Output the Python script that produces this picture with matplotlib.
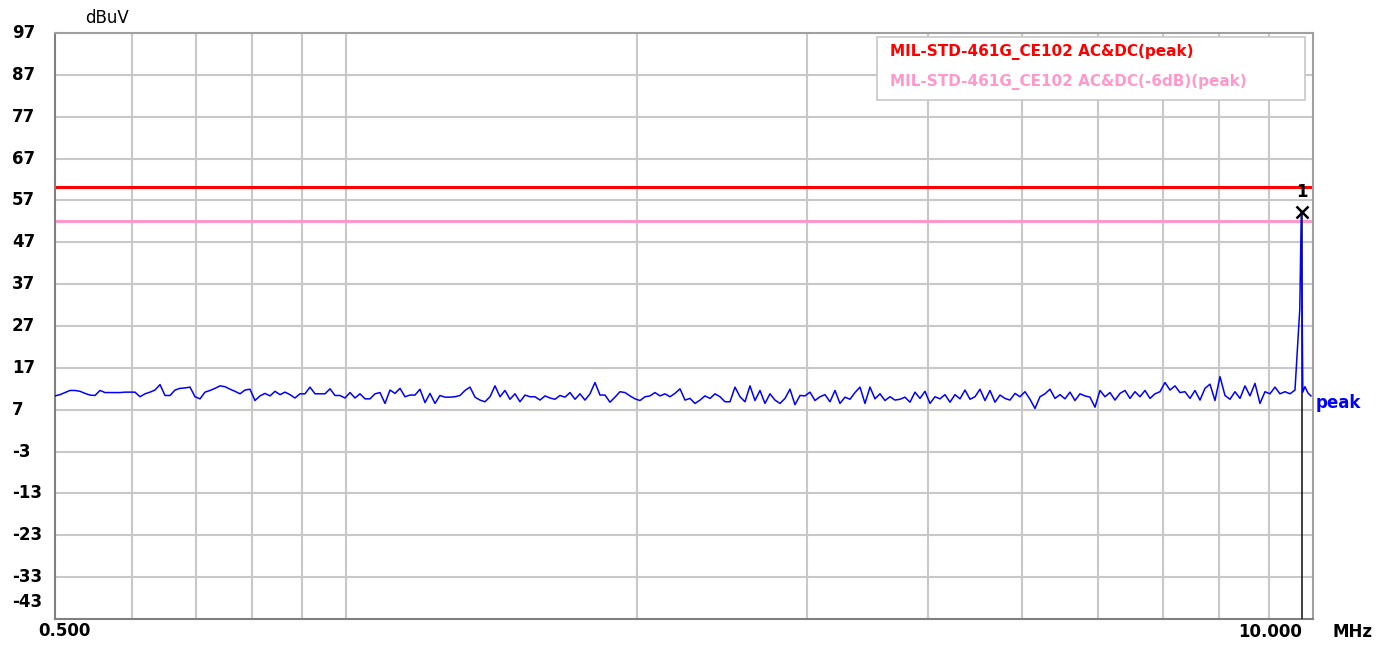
import numpy as np
import matplotlib
matplotlib.use("Agg")
import matplotlib.pyplot as plt

# levels (dBuV), one every ~5 px of screen, 0.5 MHz .. ~9.58 MHz
level_low = [10.3, 10.6, 11.1, 11.6, 11.6, 11.4, 10.9, 10.5, 10.4, 11.6, 11.1, 11.1, 11.1, 11.1, 11.2, 11.2,
             11.2, 10.1, 10.8, 11.2, 11.7, 13.0, 10.4, 10.4, 11.7, 12.1, 12.2, 12.4, 10.1, 9.6, 11.2, 11.6,
             12.1, 12.7, 12.5, 11.9, 11.4, 10.8, 11.7, 11.9, 9.2, 10.3, 10.9, 10.3, 11.4, 10.6, 11.2, 10.6,
             9.8, 10.8, 10.8, 12.4, 10.8, 10.8, 10.8, 12.0, 10.4, 10.4, 9.8, 11.1, 9.8, 10.8, 9.6, 9.6]
level_mid1 = [10.8, 11.1, 8.5, 11.7, 10.9, 12.1, 10.1, 10.5, 10.5, 11.9, 8.7, 10.9, 8.5, 10.4, 10.0, 10.0,
              10.1, 10.4, 11.6, 12.4, 10.0, 9.3, 8.9, 10.1, 12.7, 10.1, 11.6, 9.5, 10.8, 8.9, 10.5, 10.1,
              10.1, 9.3, 10.3, 9.8, 9.5, 10.4, 10.0, 11.1, 9.5, 10.8, 9.3, 10.8, 13.5, 10.5, 10.5, 8.8,
              10.0, 11.3, 11.1, 10.3, 9.6, 9.2, 10.1, 10.3, 11.1, 10.3, 10.8, 10.1, 10.9, 12.0, 9.3]
level_mid2 = [9.7, 8.5, 9.3, 10.3, 9.7, 10.8, 10.1, 8.9, 8.9, 12.4, 10.1, 8.9, 12.7, 9.2, 11.6, 8.5,
              10.8, 9.3, 8.5, 9.7, 11.9, 8.2, 10.4, 10.3, 11.2, 9.2, 10.1, 10.6, 8.9, 11.6, 8.5, 10.0,
              9.5, 11.1, 12.4, 8.5, 12.4, 9.6, 10.8, 9.2, 10.1, 9.3, 9.5, 10.0, 8.8, 11.2, 9.7, 11.4,
              8.5, 10.1, 9.6, 10.6, 8.8, 10.6, 9.6, 11.7, 9.5, 10.1, 11.9, 9.2, 11.6, 8.8, 10.5]
level_high = [9.7, 9.3, 10.9, 10.1, 11.3, 9.5, 7.3, 10.1, 10.8, 11.9, 9.7, 10.6, 9.6, 11.2, 9.2, 10.8,
              10.3, 10.0, 7.6, 11.6, 10.1, 11.1, 9.3, 10.9, 11.6, 9.7, 11.3, 10.1, 11.6, 9.7, 10.8, 11.3,
              13.5, 11.7, 12.7, 11.1, 11.3, 9.7, 11.6, 9.3, 12.1, 13.1, 9.2, 14.9, 10.4, 9.5, 11.3, 9.7,
              12.7, 10.3, 13.3, 8.5, 11.3, 10.8, 12.4, 10.8, 11.3, 10.8, 11.7]

# spike at the marker and the short tail up to 10 MHz
spike_freq = [9.69, 9.725, 9.76, 9.81, 9.88, 9.95]
spike_level = [31.0, 54.3, 11.2, 12.5, 11.0, 10.3]

marker_freq = 9.74
marker_level = 54.3

limit_level = 60.2
limit_6db_level = 52.0

y_ticks = [97, 87, 77, 67, 57, 47, 37, 27, 17, 7, -3, -13, -23, -33, -43]
x_grid = [0.6, 0.7, 0.8, 0.9, 1, 2, 3, 4, 5, 6, 7, 8, 9]

noise = level_low + level_mid1 + level_mid2 + level_high
noise_freq = np.geomspace(0.5, 9.58, len(noise))  # receiver sweep points (log spaced)
freq = np.concatenate([noise_freq, spike_freq])
level = np.array(noise + spike_level)

fig = plt.figure(figsize=(13.81, 6.46), dpi=100)
ax = fig.add_axes([55 / 1381, 27 / 646, 1258 / 1381, 586 / 646])
ax.set_xscale("log")
ax.set_xlim(0.5, 10.0)
ax.set_ylim(-43, 97)

for v in y_ticks[1:-1]:
    ax.axhline(v, color="#c8c8c8", lw=1.5, zorder=0)
for f in x_grid:
    ax.axvline(f, color="#c8c8c8", lw=1.5, zorder=0)

ax.set_xticks([])
ax.set_yticks([])
ax.minorticks_off()
for s in ax.spines.values():
    s.set_color("#a0a0a0")
    s.set_linewidth(1.5)
ax.spines["left"].set_color("#808080")
ax.spines["bottom"].set_color("#808080")

ax.axhline(limit_level, color="#ff0000", lw=2.2, zorder=2)
ax.axhline(limit_6db_level, color="#ff99cc", lw=2.2, zorder=2)

ax.plot([marker_freq, marker_freq], [-43, marker_level], color="#202020", lw=1.2, zorder=3)
ax.plot(freq, level, color="#0000ff", lw=1.1, zorder=4)
ax.plot(marker_freq, marker_level, marker="x", ms=8, mew=1.8, color="black", zorder=5)
ax.text(marker_freq, marker_level + 2.5, "1", ha="center", va="bottom", fontsize=12,
        fontweight="bold")

# y labels (the bottom one is pushed up inside the figure like the original)
for v in y_ticks:
    yv = v if v != -43 else -38.9
    ax.text(-43 / 1258, yv, str(v), transform=ax.get_yaxis_transform(), ha="left", va="center",
            fontsize=12, fontweight="bold")
ax.text(30 / 1258, 1.025, "dBuV", transform=ax.transAxes, ha="left", va="center", fontsize=12)

fig.text(38 / 1381, 1 - 631 / 646, "0.500", ha="left", va="center", fontsize=12, fontweight="bold")
fig.text(1302 / 1381, 1 - 632 / 646, "10.000", ha="right", va="center", fontsize=12,
         fontweight="bold")
fig.text(1333 / 1381, 1 - 632 / 646, "MHz", ha="left", va="center", fontsize=12, fontweight="bold")
fig.text(1316 / 1381, 1 - 403 / 646, "peak", ha="left", va="center", fontsize=12,
         fontweight="bold", color="#0000ff")

# legend box
box = plt.Rectangle((877 / 1381, 1 - 100 / 646), 428 / 1381, 63 / 646, transform=fig.transFigure,
                    facecolor="white", edgecolor="#c8c8c8", lw=1.2, zorder=10)
fig.add_artist(box)
fig.text(890 / 1381, 1 - 52 / 646, "MIL-STD-461G_CE102 AC&DC(peak)", ha="left", va="center",
         fontsize=11, fontweight="bold", color="#ff0000", zorder=11)
fig.text(890 / 1381, 1 - 82 / 646, "MIL-STD-461G_CE102 AC&DC(-6dB)(peak)", ha="left", va="center",
         fontsize=11, fontweight="bold", color="#ff99cc", zorder=11)

fig.savefig("out.png", dpi=100)
